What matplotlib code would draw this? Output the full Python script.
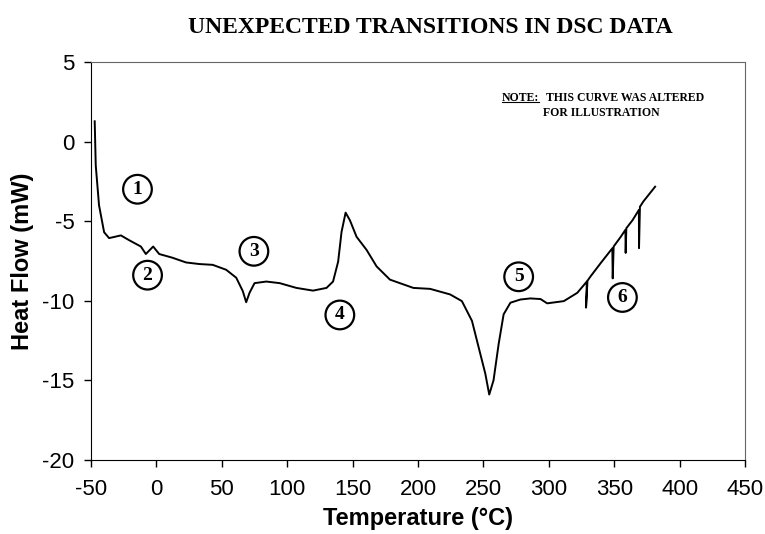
import matplotlib.pyplot as plt

plt.rcParams['axes.unicode_minus'] = False

# DSC curve (temperature in C, heat flow in mW)
temp = [-47.2, -46.4, -43.9, -40.0, -36.2, -32.4, -27.2, -20.9, -11.9, -8.1,
        -2.5, 2.1, 12.1, 22.6, 32.8, 43.0, 53.3, 61.0, 66.0, 68.6,
        71.2, 75.0, 84.0, 94.2, 107.0, 119.7, 130.0, 135.0, 138.9, 141.5,
        144.6, 147.9, 153.0, 160.7, 168.3, 178.5, 196.4, 209.2, 224.5, 233.5,
        241.2, 246.2, 251.4, 254.4, 257.7, 261.6, 265.4, 270.6, 278.2, 285.9,
        293.6, 298.7, 311.4, 321.7, 329.0, 328.4, 329.5, 331.9, 339.6, 348.5,
        348.8, 349.5, 355.0, 358.5, 358.7, 359.2, 363.9, 368.8, 368.9, 369.6,
        372.2, 381.2]
heat = [1.27, -1.5, -4.0, -5.7, -6.07, -6.0, -5.9, -6.2, -6.6, -7.07,
        -6.6, -7.07, -7.3, -7.6, -7.7, -7.75, -8.06, -8.56, -9.4, -10.1,
        -9.5, -8.9, -8.8, -8.9, -9.2, -9.37, -9.2, -8.8, -7.55, -5.68,
        -4.47, -4.95, -5.99, -6.82, -7.85, -8.68, -9.2, -9.26, -9.61, -10.03,
        -11.27, -12.9, -14.59, -15.9, -15.0, -12.72, -10.86, -10.13, -9.93, -9.86,
        -9.9, -10.17, -10.03, -9.51, -8.8, -10.44, -8.75, -8.47, -7.64, -6.71,
        -8.6, -6.6, -5.98, -5.55, -7.0, -5.45, -4.95, -4.3, -6.7, -4.1,
        -3.77, -2.84]

# circled transition numbers
marks = ['1', '2', '3', '4', '5', '6']
mark_x = [-14.5, -6.8, 74.5, 140.2, 276.9, 356.2]
mark_y = [-3.0, -8.4, -6.9, -10.9, -8.5, -9.8]

sans = ['Liberation Sans', 'DejaVu Sans']
serif = ['Liberation Serif', 'DejaVu Serif']

fig = plt.figure(figsize=(7.65, 5.34), dpi=100)
ax = fig.add_axes([0.119, 0.139, 0.855, 0.745])

ax.plot(temp, heat, color='black', lw=1.4)

for m, x, y in zip(marks, mark_x, mark_y):
    ax.text(x, y, m, family=serif, fontweight='bold', fontsize=14,
            ha='center', va='center',
            bbox=dict(boxstyle='circle,pad=0.3', fc='white', ec='black', lw=1.6))

ax.set_xlim(-50, 450)
ax.set_ylim(-20, 5)
ax.set_xticks(range(-50, 451, 50))
ax.set_yticks(range(-20, 6, 5))
ax.tick_params(direction='out', length=5, labelsize=16, width=1)
ax.tick_params(axis='x', pad=9)
ax.tick_params(axis='y', pad=7)
for lab in ax.get_xticklabels() + ax.get_yticklabels():
    lab.set_family(sans)

ax.spines['left'].set_color('black')
ax.spines['bottom'].set_color('black')
ax.spines['top'].set_color('#666666')
ax.spines['right'].set_color('#666666')

ax.set_xlabel('Temperature (°C)', family=sans, fontweight='bold', fontsize=17, labelpad=5)
ax.set_ylabel('Heat Flow (mW)', family=sans, fontweight='bold', fontsize=17, labelpad=6)

fig.text(0.563, 0.948, 'UNEXPECTED TRANSITIONS IN DSC DATA', family=serif,
         fontweight='bold', fontsize=17, ha='center', va='center')

# note in the upper right, "NOTE:" underlined
nx, ny = 0.685, 0.91
note = ax.text(nx, ny, 'NOTE:', transform=ax.transAxes, family=serif,
               fontweight='bold', fontsize=8.5, ha='right', va='center')
ax.text(nx + 0.01, ny, 'THIS CURVE WAS ALTERED', transform=ax.transAxes, family=serif,
        fontweight='bold', fontsize=8.5, ha='left', va='center')
ax.text(0.78, 0.872, 'FOR ILLUSTRATION', transform=ax.transAxes, family=serif,
        fontweight='bold', fontsize=8.5, ha='center', va='center')
fig.canvas.draw()
bb = note.get_window_extent().transformed(ax.transAxes.inverted())
ax.plot([bb.x0, bb.x1], [bb.y0 + 0.004, bb.y0 + 0.004], transform=ax.transAxes,
        color='black', lw=0.8)

fig.savefig('out.png', dpi=100)
